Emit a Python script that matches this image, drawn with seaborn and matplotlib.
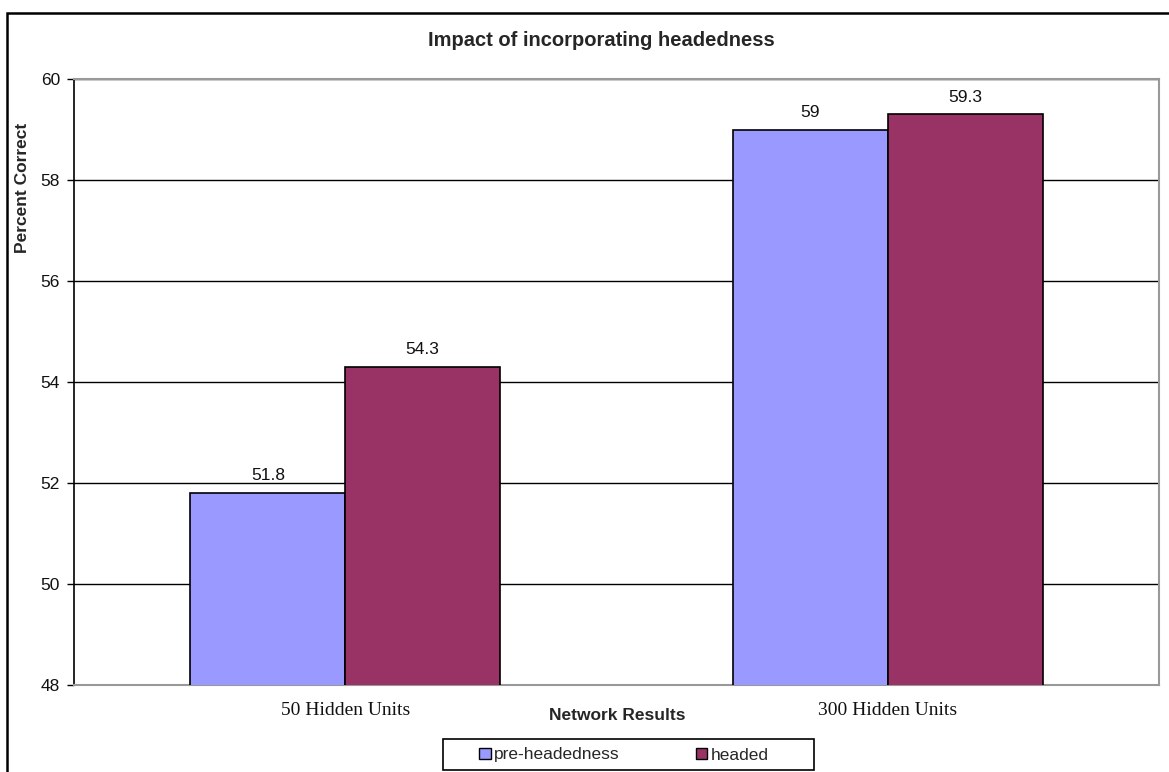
import matplotlib
matplotlib.use("Agg")
import matplotlib.pyplot as plt
import seaborn as sns
import pandas as pd
from matplotlib.patches import Rectangle, Patch

# Chart data
categories = ["50 Hidden Units", "300 Hidden Units"]
series_names = ["pre-headedness", "headed"]
pre_headedness = [51.8, 59.0]
headed = [54.3, 59.3]
y_ticks = [48, 50, 52, 54, 56, 58, 60]

colors = {"pre-headedness": "#9999FF", "headed": "#993366"}

df = pd.DataFrame({
    "category": categories * 2,
    "series": [series_names[0]] * 2 + [series_names[1]] * 2,
    "value": pre_headedness + headed,
})

sns.set_theme(style="white")
plt.rcParams["font.family"] = ["Liberation Sans", "DejaVu Sans"]

W, H = 1169, 772
fig = plt.figure(figsize=(W / 100, H / 100), dpi=100)
ax = fig.add_axes([74 / W, 1 - 685 / H, (1159 - 74) / W, (685 - 79) / H])

sns.barplot(data=df, x="category", y="value", hue="series", order=categories,
            hue_order=series_names, palette=colors, width=0.571, gap=0,
            edgecolor="black", linewidth=1.2, saturation=1, ax=ax, legend=False,
            zorder=3)

ax.set_ylim(48, 60)
ax.set_xlim(-0.5, 1.5)
ax.set_yticks(y_ticks)
ax.yaxis.grid(True, color="black", linewidth=1.0)
ax.set_axisbelow(True)

# value labels above bars
for cont in ax.containers:
    ax.bar_label(cont, fmt="%g", padding=7, fontsize=12.5, color="#111111")

# spines
ax.spines["left"].set_color("black")
ax.spines["left"].set_linewidth(1.2)
for s in ["top", "right", "bottom"]:
    ax.spines[s].set_color("#999999")
    ax.spines[s].set_linewidth(1.5)

ax.tick_params(axis="y", left=True, length=5, width=1, color="black",
               labelsize=12.5, labelcolor="#111111", pad=5)
ax.tick_params(axis="x", bottom=False, pad=6)
for lbl in ax.get_xticklabels():
    lbl.set_fontfamily(["Liberation Serif", "DejaVu Serif"])
    lbl.set_fontsize(14)
    lbl.set_color("#111111")

ax.set_xlabel("")
ax.set_ylabel("")

fig.text(601 / W, 1 - 40 / H, "Impact of incorporating headedness",
         ha="center", va="center", fontsize=14.5, fontweight="bold")
fig.text(23 / W, 1 - 188 / H, "Percent Correct", rotation=90,
         ha="center", va="center", fontsize=12.5, fontweight="bold")
fig.text(617 / W, 1 - 715 / H, "Network Results", ha="center", va="center",
         fontsize=12.5, fontweight="bold")

# legend: entries without frame, boxed by a separate rectangle
handles = [Patch(facecolor=colors[n], edgecolor="black", linewidth=1) for n in series_names]
leg = fig.legend(handles, series_names, loc="center",
                 bbox_to_anchor=(624 / W, 1 - 755 / H), ncol=2, fontsize=12.5,
                 frameon=False, handlelength=0.65, handleheight=0.65,
                 handletextpad=0.2, columnspacing=4.4, borderpad=0.3,
                 borderaxespad=0)
fig.patches.append(Rectangle((443 / W, 1 - 770 / H), (814 - 443) / W, 31 / H,
                             transform=fig.transFigure, fill=False,
                             edgecolor="black", linewidth=1.2))

# outer chart border
fig.patches.append(Rectangle((7 / W, -0.05), 1.1, 1 - 13 / H + 0.05,
                             transform=fig.transFigure, fill=False,
                             edgecolor="black", linewidth=1.8))

fig.savefig("out.png", dpi=100)
